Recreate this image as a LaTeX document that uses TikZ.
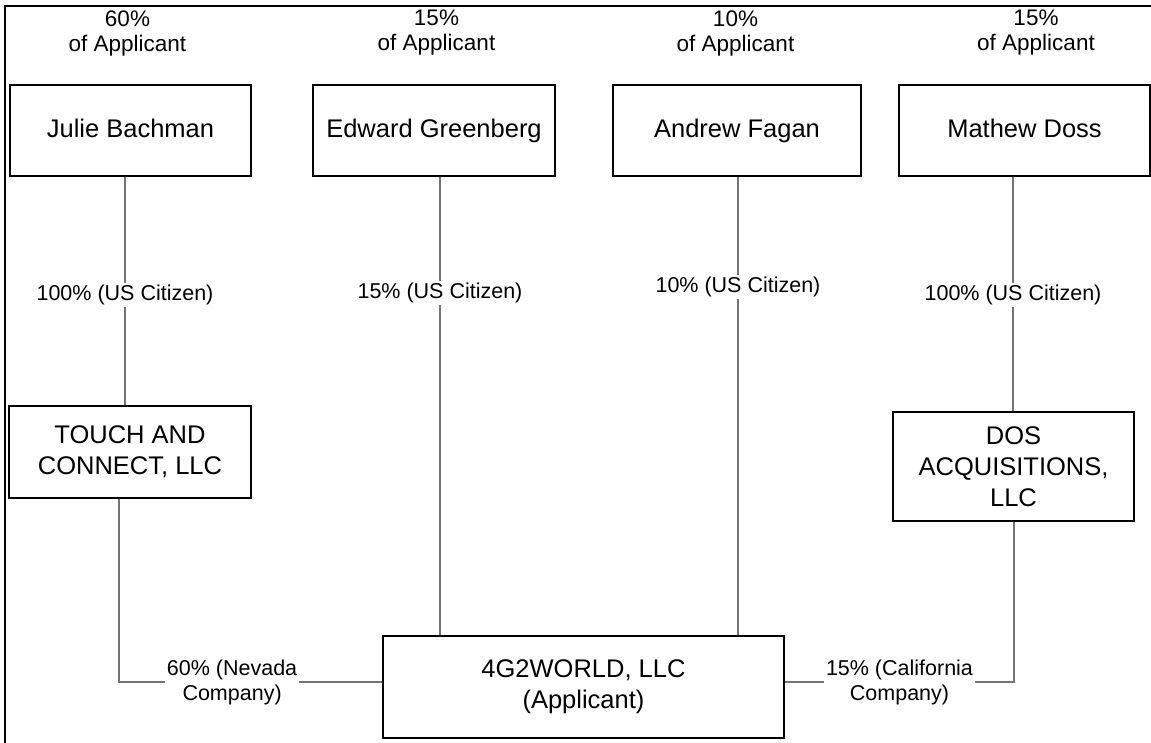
\documentclass[tikz,border=0pt]{standalone}
\usepackage{fontspec}
\setmainfont{Liberation Sans}
\usepackage{tikz}
\usetikzlibrary{positioning}
\tikzstyle{box} = [draw, line width=1pt, align=center, inner sep=2pt, minimum height=45.5pt, font=\fontsize{12.75}{15.5}\selectfont]
\tikzstyle{owner} = [box, text height=9.2pt, text depth=2.6pt]
\tikzstyle{share} = [align=center, inner sep=0pt, font=\fontsize{11.25}{12.5}\selectfont]
\tikzstyle{link} = [line width=0.6pt, black!55]
\tikzstyle{tag} = [fill=white, text=black, align=center, inner sep=1pt, font=\fontsize{10.75}{12.5}\selectfont]

\begin{document}
\begin{tikzpicture}[x=0.5pt,y=-0.5pt]
	\useasboundingbox (0,0) rectangle (1151,743);
	
	% Frame:
	% only the top and the left side are drawn
	\draw [line width=1.25pt] (5,743) -- (5,6) -- (1151,6);
	
	% Owners:
	\node [owner, minimum width=120.5pt] (jb) at (130.5,130.5) {Julie Bachman};
	\node [owner, minimum width=121pt] (eg) at (434,130.5) {Edward Greenberg};
	\node [owner, minimum width=124pt] (af) at (737,130.5) {Andrew Fagan};
	\node [owner, minimum width=125.5pt] (md) at (1024.5,130.5) {Mathew Doss};
	
	% Shares of the applicant, above the owners:
	\node [share] (jbshare) at (127.5,33) {60\%\\of Applicant};
	\node [share] (egshare) at (436.5,33) {15\%\\of Applicant};
	\node [share] (afshare) at (735.5,33) {10\%\\of Applicant};
	\node [share] (mdshare) at (1036,33) {15\%\\of Applicant};
	
	% Companies:
	\node [box, minimum width=121pt, minimum height=46pt] (tc) at (130,452) {TOUCH AND\\CONNECT, LLC};
	\node [box, minimum width=120.5pt, minimum height=54.5pt] (dos) at (1013.5,466.5) {DOS\\ACQUISITIONS,\\LLC};
	\node [box, minimum width=200.5pt, minimum height=51pt] (app) at (583.5,687) {4G2WORLD, LLC\\(Applicant)};
	
	% Ownership lines:
	\draw [link] ([xshift=-2.75pt]jb.south) -- ([xshift=-2.75pt]jb.south |- tc.north) node [tag,pos=0.517] {100\% (US Citizen)};
	\draw [link] ([xshift=3pt]eg.south) -- ([xshift=3pt]eg.south |- app.north) node [tag,pos=0.254] {15\% (US Citizen)};
	\draw [link] ([xshift=0.5pt]af.south) -- ([xshift=0.5pt]af.south |- app.north) node [tag,pos=0.24] {10\% (US Citizen)};
	\draw [link] ([xshift=-5.75pt]md.south) -- ([xshift=-5.75pt]md.south |- dos.north) node [tag,pos=0.504] {100\% (US Citizen)};
	
	\draw [link] ([xshift=-5.5pt]tc.south) |- ([yshift=2.5pt]app.west) node [tag,pos=0.715] {60\% (Nevada\\Company)};
	\draw [link] ([xshift=0.25pt]dos.south) |- ([yshift=2.5pt]app.east) node [tag,pos=0.75] {15\% (California\\Company)};
	
\end{tikzpicture}
\end{document}
